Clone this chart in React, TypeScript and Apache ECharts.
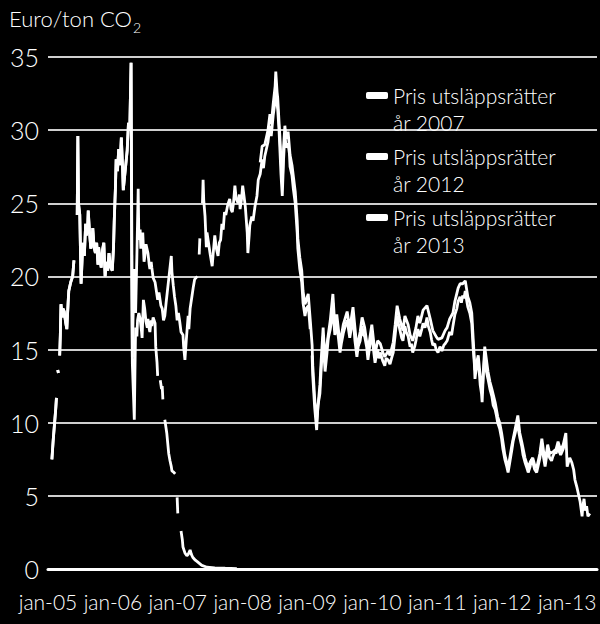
import React, { useEffect, useRef } from "react";
import * as echarts from "echarts";

type Pt = [number, number | null];

// Tick labels
const yTicks = [0, 5, 10, 15, 20, 25, 30, 35];
const xYears = [2005, 2006, 2007, 2008, 2009, 2010, 2011, 2012, 2013];

const seriesNames = [
  "Pris utsläppsrätter\når 2007",
  "Pris utsläppsrätter\når 2012",
  "Pris utsläppsrätter\når 2013",
];

// Common part of the 2007 and 2012 price curves (2005 - April 2006), [decimal year, euro/ton]
const sharedStart: Pt[] = [
  [2005.06, 7.5], [2005.08, 8.8], [2005.1, 9.9], [2005.12, 11.0], [2005.13, 11.7], [2005.14, null],
  [2005.15, 13.6], [2005.16, 13.4], [2005.17, null], [2005.18, 14.6], [2005.19, 16.0], [2005.2, 18.1],
  [2005.22, 17.2], [2005.23, 17.8], [2005.25, 17.6], [2005.27, 16.9], [2005.29, 16.4], [2005.31, 18.2],
  [2005.32, 19.0], [2005.35, 19.6], [2005.38, 20.0], [2005.4, 21.1], [2005.41, null], [2005.43, 23.0],
  [2005.44, null], [2005.45, 24.2], [2005.46, 29.6], [2005.47, 25.0], [2005.49, 24.2], [2005.5, 21.8],
  [2005.51, 19.5], [2005.53, 21.6], [2005.54, 22.3], [2005.56, 21.4], [2005.58, 23.6], [2005.59, 22.8],
  [2005.61, 23.2], [2005.62, 24.5], [2005.64, 23.0], [2005.66, 21.9], [2005.68, 22.6], [2005.69, 23.3],
  [2005.71, 22.0], [2005.73, 21.6], [2005.75, 22.3], [2005.77, 20.8], [2005.78, 22.0], [2005.8, 21.2],
  [2005.82, 20.6], [2005.84, 21.8], [2005.86, 22.3], [2005.88, 20.0], [2005.9, 21.0], [2005.92, 20.4],
  [2005.94, 21.6], [2005.96, 20.7], [2005.99, 20.4], [2006.01, 22.0], [2006.02, 23.7], [2006.04, 26.2],
  [2006.05, 28.0], [2006.07, 27.2], [2006.09, 28.7], [2006.11, 27.6], [2006.13, 29.5], [2006.15, 27.3],
  [2006.16, 25.9], [2006.18, 26.8], [2006.2, 27.7], [2006.22, 28.6], [2006.24, 30.5], [2006.26, 30.0],
  [2006.28, 34.6],
];

// 2007 allowances after the April 2006 crash
const price2007Tail: Pt[] = [
  [2006.29, 20.0], [2006.3, 14.0], [2006.32, 11.5], [2006.33, 10.2], [2006.34, 13.5], [2006.35, 16.5],
  [2006.37, 15.9], [2006.38, 17.0], [2006.4, 17.5], [2006.42, 17.1], [2006.44, 16.3], [2006.45, 15.8],
  [2006.47, 18.4], [2006.49, 17.8], [2006.51, 16.9], [2006.53, 16.5], [2006.54, 17.1], [2006.56, 16.4],
  [2006.57, 16.2], [2006.59, 17.0], [2006.6, 16.6], [2006.62, 17.2], [2006.63, 17.2], [2006.65, 16.8],
  [2006.66, 15.2], [2006.68, 14.1], [2006.69, 13.2], [2006.71, null], [2006.73, 12.9], [2006.75, 12.3],
  [2006.76, 12.5], [2006.77, 11.6], [2006.78, null], [2006.8, 10.2], [2006.82, 9.6], [2006.83, 9.3],
  [2006.86, 7.9], [2006.88, 7.4], [2006.9, 7.0], [2006.91, 6.7], [2006.94, 6.6], [2006.96, 6.5],
  [2006.97, null], [2006.99, 4.9], [2007.0, 3.8], [2007.02, null], [2007.05, 2.6], [2007.07, 2.0],
  [2007.08, 1.5], [2007.11, 1.1], [2007.14, 0.9], [2007.16, 1.0], [2007.19, 1.3], [2007.21, 1.0],
  [2007.23, 0.8], [2007.27, 0.6], [2007.3, 0.5], [2007.37, 0.25], [2007.45, 0.12], [2007.57, 0.07],
  [2007.73, 0.05], [2007.91, 0.03],
];

// 2012 allowances after the April 2006 crash
const price2012Tail: Pt[] = [
  [2006.3, 14.5], [2006.31, 17.0], [2006.33, 20.5], [2006.35, 17.5], [2006.37, 21.5], [2006.39, 26.0],
  [2006.4, 22.5], [2006.42, 23.2], [2006.43, 21.9], [2006.45, 22.6], [2006.46, 23.0], [2006.48, 21.0],
  [2006.49, 21.3], [2006.51, 22.2], [2006.54, 21.6], [2006.56, 20.8], [2006.57, 20.5], [2006.59, 21.0],
  [2006.6, 20.6], [2006.62, 19.9], [2006.65, 19.6], [2006.67, 19.0], [2006.69, 18.4], [2006.71, 18.9],
  [2006.74, 18.0], [2006.76, 17.8], [2006.78, 17.0], [2006.8, 17.3], [2006.82, 18.2], [2006.85, 19.4],
  [2006.87, 20.2], [2006.9, 21.4], [2006.91, 20.3], [2006.93, 19.4], [2006.95, 18.6], [2006.97, 18.0],
  [2006.99, 17.0], [2007.01, 17.5], [2007.03, 16.9], [2007.05, 16.2], [2007.08, 16.0], [2007.09, 15.2],
  [2007.11, 14.3], [2007.13, 15.6], [2007.16, 17.3], [2007.17, 16.4], [2007.19, 17.8], [2007.22, 18.7],
  [2007.24, 19.3], [2007.26, 19.8], [2007.3, 20.0], [2007.31, null], [2007.33, 21.5], [2007.34, 22.6],
  [2007.36, null], [2007.38, 25.0], [2007.39, 26.6], [2007.4, 25.2], [2007.42, 24.1], [2007.44, 22.0],
  [2007.45, 23.0], [2007.47, 22.4], [2007.5, 21.5], [2007.53, 20.7], [2007.55, 21.8], [2007.57, 22.8],
  [2007.59, 22.0], [2007.62, 21.4], [2007.64, 22.3], [2007.66, 22.5], [2007.68, 23.6], [2007.7, 23.2],
  [2007.72, 24.4], [2007.74, 24.2], [2007.77, 24.9], [2007.8, 25.3], [2007.82, 24.6], [2007.84, 24.4],
  [2007.86, 25.1], [2007.88, 26.2], [2007.9, 25.3], [2007.93, 25.0], [2007.95, 25.6], [2007.96, 24.6],
  [2007.98, 25.2], [2008.0, 26.2], [2008.02, 25.5], [2008.04, 24.8], [2008.07, 23.0], [2008.08, 21.6],
  [2008.1, 22.8], [2008.11, 23.5], [2008.14, 24.1], [2008.16, 23.8], [2008.19, 24.8], [2008.22, 25.5],
  [2008.24, 26.6], [2008.27, 27.0], [2008.3, 28.0], [2008.32, 27.4], [2008.34, 28.2], [2008.37, 28.8],
  [2008.39, 29.2], [2008.42, 30.3], [2008.44, 29.6], [2008.47, 31.0], [2008.5, 32.0], [2008.51, 33.2],
  [2008.53, 31.8], [2008.54, 31.4], [2008.56, 30.0], [2008.57, 29.0], [2008.59, 27.0], [2008.61, 25.5],
  [2008.63, 28.0], [2008.65, 29.7], [2008.67, 28.8], [2008.7, 29.1], [2008.72, 28.4], [2008.73, 27.5],
  [2008.76, 26.9], [2008.78, 26.0], [2008.81, 25.0], [2008.84, 23.0], [2008.85, 21.9], [2008.88, 20.5],
  [2008.91, 19.6], [2008.93, 18.2], [2008.96, 17.3], [2008.98, 17.8], [2009.01, 18.0], [2009.03, 17.0],
  [2009.04, 16.4], [2009.06, null], [2009.07, 14.6], [2009.08, 13.2], [2009.11, 11.0], [2009.14, 9.5],
  [2009.16, 11.2], [2009.19, 12.0], [2009.21, 13.7], [2009.24, 15.9], [2009.25, 14.8], [2009.27, 13.5],
  [2009.3, 14.8], [2009.32, 15.8], [2009.35, 16.4], [2009.37, 17.0], [2009.39, 18.2], [2009.4, 17.2],
  [2009.42, 16.0], [2009.45, 16.8], [2009.47, 16.0], [2009.5, 14.8], [2009.52, 15.4], [2009.55, 16.1],
  [2009.58, 16.6], [2009.61, 17.0], [2009.63, 16.4], [2009.65, 15.8], [2009.68, 16.6], [2009.7, 17.3],
  [2009.73, 15.6], [2009.76, 14.5], [2009.78, 15.2], [2009.81, 15.6], [2009.84, 16.6], [2009.86, 16.0],
  [2009.88, 15.9], [2009.91, 15.2], [2009.93, 14.3], [2009.96, 15.3], [2009.99, 16.1], [2010.01, 15.2],
  [2010.04, 14.1], [2010.06, 14.6], [2010.08, 15.0], [2010.1, 14.4], [2010.12, 14.8], [2010.16, 14.2],
  [2010.19, 13.9], [2010.21, 14.4], [2010.24, 14.3], [2010.27, 14.0], [2010.3, 14.5], [2010.32, 14.8],
  [2010.35, 16.0], [2010.38, 17.3], [2010.4, 16.8], [2010.42, 16.4], [2010.45, 15.8], [2010.47, 15.6],
  [2010.5, 16.6], [2010.52, 16.2], [2010.55, 15.9], [2010.58, 15.2], [2010.6, 15.4], [2010.62, 14.8],
  [2010.65, 15.2], [2010.67, 15.6], [2010.7, 16.4], [2010.73, 15.9], [2010.76, 16.4], [2010.78, 16.8],
  [2010.81, 16.5], [2010.84, 17.2], [2010.86, 16.6], [2010.89, 16.2], [2010.91, 15.7], [2010.93, 15.3],
  [2010.96, 15.4], [2010.98, 15.0], [2011.01, 14.8], [2011.04, 15.2], [2011.07, 14.9], [2011.1, 15.3],
  [2011.12, 15.4], [2011.15, 15.6], [2011.17, 15.9], [2011.19, 16.2], [2011.22, 16.0], [2011.24, 16.6],
  [2011.27, 17.4], [2011.3, 17.8], [2011.32, 18.3], [2011.35, 18.6], [2011.37, 18.2], [2011.39, 18.7],
  [2011.41, 18.5], [2011.43, 19.0], [2011.45, 18.4], [2011.47, 17.9], [2011.5, 17.5], [2011.53, 16.8],
  [2011.55, 15.2], [2011.57, 14.0], [2011.58, 13.0], [2011.6, 13.8], [2011.63, 14.0], [2011.65, 13.2],
  [2011.66, 12.6], [2011.68, 12.0], [2011.69, 11.4], [2011.71, 13.5], [2011.73, 14.6], [2011.75, 13.6],
  [2011.78, 13.0], [2011.81, 12.3], [2011.84, 11.8], [2011.86, 11.2], [2011.89, 10.9], [2011.91, 10.5],
  [2011.93, 10.0], [2011.96, 9.6], [2011.99, 8.9], [2012.01, 8.2], [2012.04, 7.5], [2012.07, 7.0],
  [2012.09, 6.6], [2012.12, 7.4], [2012.15, 8.2], [2012.17, 8.8], [2012.2, 9.3], [2012.24, 10.2],
  [2012.25, 9.5], [2012.27, 9.0], [2012.3, 8.4], [2012.32, 7.8], [2012.35, 7.3], [2012.38, 6.9],
  [2012.4, 6.6], [2012.43, 7.0], [2012.45, 7.5], [2012.47, 7.3], [2012.5, 6.8], [2012.53, 6.6],
  [2012.55, 7.0], [2012.58, 7.6], [2012.61, 8.6], [2012.63, 7.8], [2012.66, 7.0], [2012.68, 7.6],
  [2012.7, 8.2], [2012.73, 7.6], [2012.76, 7.4], [2012.78, 7.7], [2012.81, 8.0], [2012.83, 7.9],
  [2012.86, 8.4], [2012.88, 8.0], [2012.9, 7.8], [2012.94, 8.2], [2012.96, 8.6],
];

// 2013 allowances
const price2013: Pt[] = [
  [2008.27, 27.8], [2008.3, 28.9], [2008.34, 29.0], [2008.37, 29.6], [2008.39, 30.0], [2008.42, 31.1],
  [2008.44, 30.4], [2008.47, 31.8], [2008.5, 33.0], [2008.51, 34.0], [2008.53, 32.6], [2008.54, 32.2],
  [2008.57, 29.8], [2008.61, 26.3], [2008.63, 28.8], [2008.65, 30.3], [2008.67, 29.4], [2008.7, 29.9],
  [2008.73, 28.3], [2008.76, 27.6], [2008.81, 25.8], [2008.84, 23.8], [2008.85, 22.6], [2008.88, 21.3],
  [2008.91, 20.4], [2008.93, 19.0], [2008.96, 18.1], [2009.01, 18.8], [2009.04, 17.1], [2009.07, 15.3],
  [2009.08, 13.9], [2009.11, 11.6], [2009.14, 10.1], [2009.19, 12.6], [2009.21, 14.3], [2009.24, 16.5],
  [2009.27, 14.1], [2009.3, 15.4], [2009.35, 17.0], [2009.39, 18.8], [2009.42, 16.6], [2009.45, 17.4],
  [2009.5, 15.4], [2009.55, 16.7], [2009.61, 17.6], [2009.65, 16.4], [2009.7, 17.9], [2009.76, 15.1],
  [2009.81, 16.2], [2009.84, 17.2], [2009.88, 16.5], [2009.93, 14.9], [2009.99, 16.7], [2010.04, 14.7],
  [2010.08, 15.6], [2010.12, 15.4], [2010.16, 14.8], [2010.19, 14.5], [2010.24, 14.9], [2010.27, 14.6],
  [2010.32, 15.5], [2010.35, 16.7], [2010.38, 18.0], [2010.42, 17.1], [2010.47, 16.3], [2010.5, 17.3],
  [2010.55, 16.7], [2010.58, 16.0], [2010.62, 15.6], [2010.67, 16.5], [2010.7, 17.3], [2010.73, 16.8],
  [2010.78, 17.7], [2010.84, 18.0], [2010.89, 17.1], [2010.93, 16.3], [2010.98, 15.9], [2011.01, 15.7],
  [2011.07, 15.8], [2011.12, 16.3], [2011.15, 16.5], [2011.19, 17.1], [2011.24, 17.5], [2011.27, 18.3],
  [2011.32, 19.2], [2011.35, 19.5], [2011.39, 19.5], [2011.43, 19.7], [2011.47, 18.6], [2011.5, 18.2],
  [2011.53, 17.5], [2011.55, 15.9], [2011.58, 13.6], [2011.63, 14.6], [2011.66, 13.2], [2011.69, 12.0],
  [2011.73, 15.2], [2011.78, 13.5], [2011.81, 12.8], [2011.84, 12.3], [2011.89, 11.4], [2011.93, 10.4],
  [2011.96, 10.0], [2011.99, 9.3], [2012.04, 7.8], [2012.09, 6.9], [2012.12, 7.7], [2012.15, 8.5],
  [2012.2, 9.6], [2012.24, 10.5], [2012.27, 9.3], [2012.3, 8.7], [2012.35, 7.6], [2012.4, 6.9],
  [2012.43, 7.3], [2012.47, 7.6], [2012.5, 7.1], [2012.53, 6.9], [2012.58, 7.9], [2012.61, 8.9],
  [2012.66, 7.3], [2012.7, 8.5], [2012.73, 7.9], [2012.78, 8.0], [2012.83, 8.2], [2012.86, 8.7],
  [2012.9, 8.1], [2012.94, 8.5], [2012.98, 9.3], [2013.0, 7.0], [2013.04, 7.6], [2013.07, 7.3],
  [2013.1, 6.8], [2013.12, 6.1], [2013.15, 5.6], [2013.17, 5.2], [2013.2, 4.6], [2013.23, 3.6],
  [2013.24, 4.2], [2013.26, 4.8], [2013.28, 4.0], [2013.3, 4.3], [2013.32, 3.6], [2013.35, 3.8],
];

const FONT = "Lato, 'Open Sans', sans-serif";

const toData = (pts: Pt[]) => pts.map(([t, v]) => [t, v === null ? "-" : v]);

export default function App() {
  const ref = useRef<HTMLDivElement | null>(null);

  useEffect(() => {
    document.body.style.margin = "0";
    document.body.style.background = "#000";
    if (!ref.current) return;
    const chart = echarts.init(ref.current, undefined, { renderer: "svg" });

    const seriesData = [
      toData([...sharedStart, ...price2007Tail]),
      toData([...sharedStart, ...price2012Tail]),
      toData(price2013),
    ];

    chart.setOption({
      animation: false,
      backgroundColor: "#000",
      textStyle: { fontFamily: FONT, fontWeight: 300 },
      title: {
        text: "Euro/ton CO{sub|2}",
        left: 9,
        top: 2,
        padding: 0,
        textStyle: {
          color: "#fff",
          fontFamily: FONT,
          fontSize: 22,
          fontWeight: 300,
          rich: {
            sub: { color: "#fff", fontFamily: FONT, fontSize: 14, fontWeight: 300, padding: [18, 0, 0, 1] },
          },
        },
      },
      legend: {
        orient: "vertical",
        left: 361,
        top: 50,
        itemWidth: 22,
        itemHeight: 7,
        itemGap: -20,
        icon: "roundRect",
        selectedMode: false,
        data: seriesNames,
        formatter: (name: string) => "\n" + name,
        textStyle: {
          color: "#fff",
          fontFamily: FONT,
          fontSize: 21,
          fontWeight: 300,
          lineHeight: 27,
        },
      },
      grid: { left: 48, right: 3, top: 57, bottom: 55, containLabel: false },
      xAxis: {
        type: "value",
        min: xYears[0],
        max: 2013.46,
        interval: 1,
        axisLine: { show: true, lineStyle: { color: "#fff", width: 3 } },
        axisTick: { show: false },
        splitLine: { show: false },
        axisLabel: {
          color: "#fff",
          fontFamily: FONT,
          fontSize: 21,
          fontWeight: 300,
          margin: 22,
          showMaxLabel: false,
          formatter: (v: number) =>
            xYears.includes(Math.round(v * 1000) / 1000) ? "jan-" + String(v).slice(2) : "",
        },
      },
      yAxis: {
        type: "value",
        min: yTicks[0],
        max: yTicks[yTicks.length - 1],
        interval: 5,
        axisLine: { show: false },
        axisTick: { show: false },
        splitLine: { lineStyle: { color: "#cfcfcf", width: 2 } },
        axisLabel: { color: "#fff", fontFamily: FONT, fontSize: 25, fontWeight: 300, margin: 9 },
      },
      series: seriesNames.map((name, i) => ({
        name,
        type: "line",
        data: seriesData[i],
        showSymbol: false,
        symbol: "none",
        connectNulls: false,
        color: "#fff",
        itemStyle: { color: "#fff" },
        lineStyle: { color: "#fff", width: 2.8 },
        z: 3 + i,
      })),
    });

    return () => chart.dispose();
  }, []);

  return <div ref={ref} style={{ width: 600, height: 624, background: "#000" }} />;
}
